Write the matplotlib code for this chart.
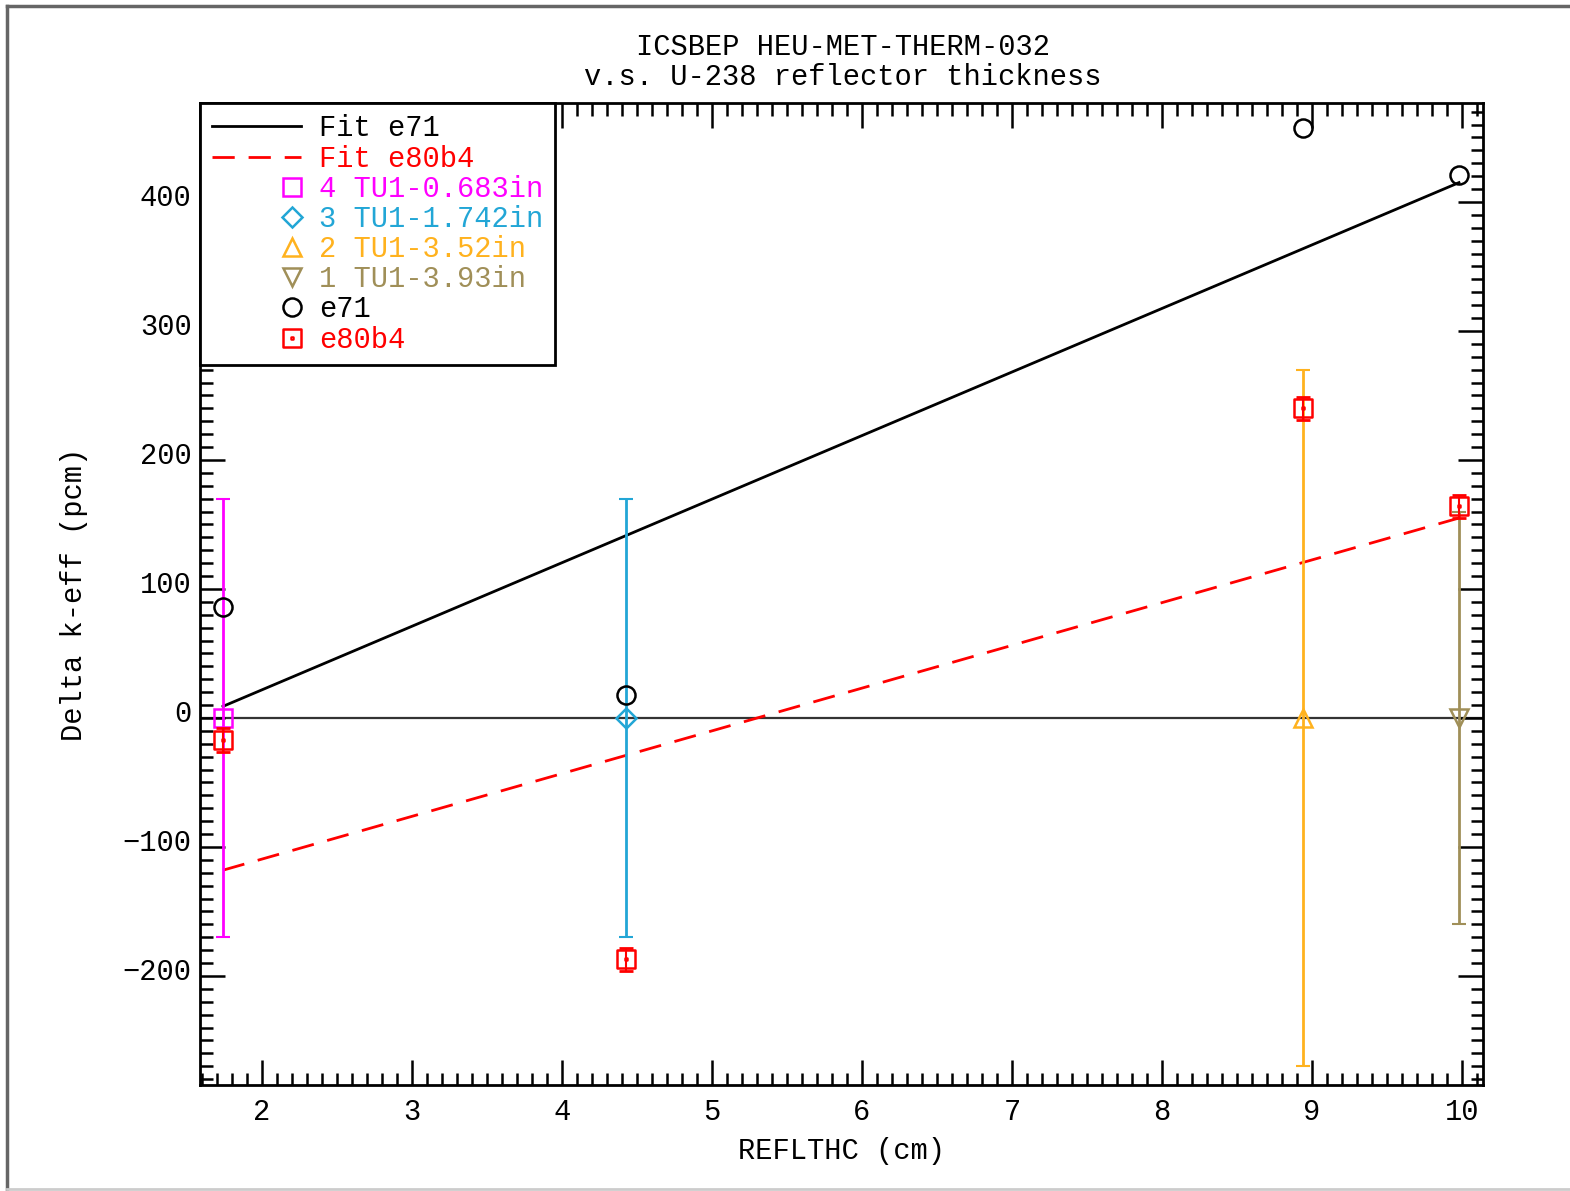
import matplotlib
matplotlib.use("Agg")
import matplotlib.pyplot as plt
from matplotlib.path import Path
from matplotlib.legend_handler import HandlerLine2D
from matplotlib.lines import Line2D
from matplotlib.ticker import MultipleLocator
from matplotlib.transforms import ScaledTranslation

plt.rcParams['font.family'] = ['Liberation Mono', 'DejaVu Sans']

# ---- data ----
x_pos = [1.74, 4.43, 8.94, 9.98]
case_labels = ["4 TU1-0.683in", "3 TU1-1.742in", "2 TU1-3.52in", "1 TU1-3.93in"]
case_colors = ["#ff00ff", "#22a6d6", "#ffb21e", "#a08f58"]
case_markers = ["s", "D", "^", "v"]
case_values = [0, 0, 0, 0]
case_errors = [170, 170, 270, 160]

e71_values = [86, 18, 457, 421]
e80b4_values = [-17, -187, 240, 164]
e80b4_errors = [9, 9, 9, 9]

fit_x = [1.74, 9.98]
fit_e71 = [9, 415]
fit_e80b4 = [-118, 155]

FS = 20.7

# ---- figure ----
fig = plt.figure(figsize=(15.7, 11.91), dpi=100)
ax = fig.add_axes([200/1570, 1-1085/1191, (1483-200)/1570, (1085-103)/1191])

# figure border
fig.add_artist(Line2D([7/1570, 7/1570], [0.002, 1-6/1191], transform=fig.transFigure, color="#666666", lw=2.5))
fig.add_artist(Line2D([7/1570, 1.0], [1-6/1191, 1-6/1191], transform=fig.transFigure, color="#666666", lw=2.5))
fig.add_artist(Line2D([7/1570, 1.0], [2.5/1191, 2.5/1191], transform=fig.transFigure, color="#cccccc", lw=2))

ax.axhline(0, color="#333333", lw=1.6, zorder=1)

l1, = ax.plot(fit_x, fit_e71, color="black", lw=2, label="Fit e71", zorder=2)
l2, = ax.plot(fit_x, fit_e80b4, color="red", lw=2, ls=(0, (8, 5)), label="Fit e80b4", zorder=2)

handles = [l1, l2]
marker_handles = []
for xv, yv, err, c, m, lab in zip(x_pos, case_values, case_errors, case_colors, case_markers, case_labels):
    ax.errorbar([xv], [yv], yerr=[err], fmt="none", ecolor=c, elinewidth=2, capsize=5, capthick=1.5, zorder=3)
    ms = 13 if m in ("^", "v") else (10 if m == "D" else 12.5)
    h, = ax.plot([xv], [yv], ls="none", marker=m, ms=ms, mfc="none", mec=c, mew=1.8, label=lab, zorder=4)
    handles.append(h)
    marker_handles.append(h)

h71, = ax.plot(x_pos, e71_values, ls="none", marker="o", ms=13, mfc="none", mec="black", mew=1.8, label="e71", zorder=5)
handles.append(h71)
marker_handles.append(h71)

# square with central dot
sq_verts = [(-1, -1), (1, -1), (1, 1), (-1, 1), (-1, -1),
            (-0.12, -0.12), (0.12, -0.12), (0.12, 0.12), (-0.12, 0.12), (-0.12, -0.12)]
sq_codes = [Path.MOVETO, Path.LINETO, Path.LINETO, Path.LINETO, Path.CLOSEPOLY,
            Path.MOVETO, Path.LINETO, Path.LINETO, Path.LINETO, Path.CLOSEPOLY]
sq_dot = Path(sq_verts, sq_codes)
ax.errorbar(x_pos, e80b4_values, yerr=e80b4_errors, fmt="none", ecolor="red", elinewidth=1.5, capsize=5, capthick=2, zorder=5)
h80, = ax.plot(x_pos, e80b4_values, ls="none", marker=sq_dot, ms=13.5, mfc="none", mec="red", mew=1.8, label="e80b4", zorder=6)
handles.append(h80)
marker_handles.append(h80)

ax.set_xlim(1.587, 10.14)
ax.set_ylim(-284.5, 476.7)
ax.xaxis.set_major_locator(MultipleLocator(1))
ax.xaxis.set_minor_locator(MultipleLocator(0.1))
ax.yaxis.set_major_locator(MultipleLocator(100))
ax.yaxis.set_minor_locator(MultipleLocator(10))
ax.tick_params(which="both", direction="in", top=True, right=True, labelsize=FS, width=1.8, colors="black")
ax.tick_params(which="major", length=18)
ax.tick_params(which="minor", length=9)
ax.tick_params(axis="x", pad=9)
ax.tick_params(axis="y", pad=6)
for s in ax.spines.values():
    s.set_linewidth(2)

ax.set_xlabel("REFLTHC (cm)", fontsize=FS, labelpad=8)
ax.set_ylabel("Delta k-eff (pcm)", fontsize=FS, labelpad=25)
fig.text(0.537, 1-47/1191, "ICSBEP HEU-MET-THERM-032", ha="center", va="center", fontsize=FS)
fig.text(0.537, 1-77/1191, "v.s. U-238 reflector thickness", ha="center", va="center", fontsize=FS)


class RightMarkerHandler(HandlerLine2D):
    def get_xdata(self, legend, xdescent, ydescent, width, height, fontsize):
        xm = -xdescent + width * 0.9
        return [xm - 1, xm + 1], [xm]


hmap = {h: RightMarkerHandler() for h in marker_handles}
leg = ax.legend(handles=handles, loc="upper left", borderaxespad=0, fontsize=FS,
                frameon=True, fancybox=False, edgecolor="black", framealpha=1,
                handlelength=3.1, handletextpad=0.65, labelspacing=0.075, borderpad=0.4,
                handler_map=hmap)
leg.get_frame().set_linewidth(2)
text_colors = ["black", "red"] + case_colors + ["black", "red"]
for t, c in zip(leg.get_texts(), text_colors):
    t.set_color(c)

# shift y tick labels slightly upward, as in the reference
fig.canvas.draw()
up = ScaledTranslation(0, 5/72, fig.dpi_scale_trans)
for tick in ax.yaxis.get_major_ticks():
    tick.label1.set_transform(tick.label1.get_transform() + up)

fig.savefig("out.png", dpi=100)
